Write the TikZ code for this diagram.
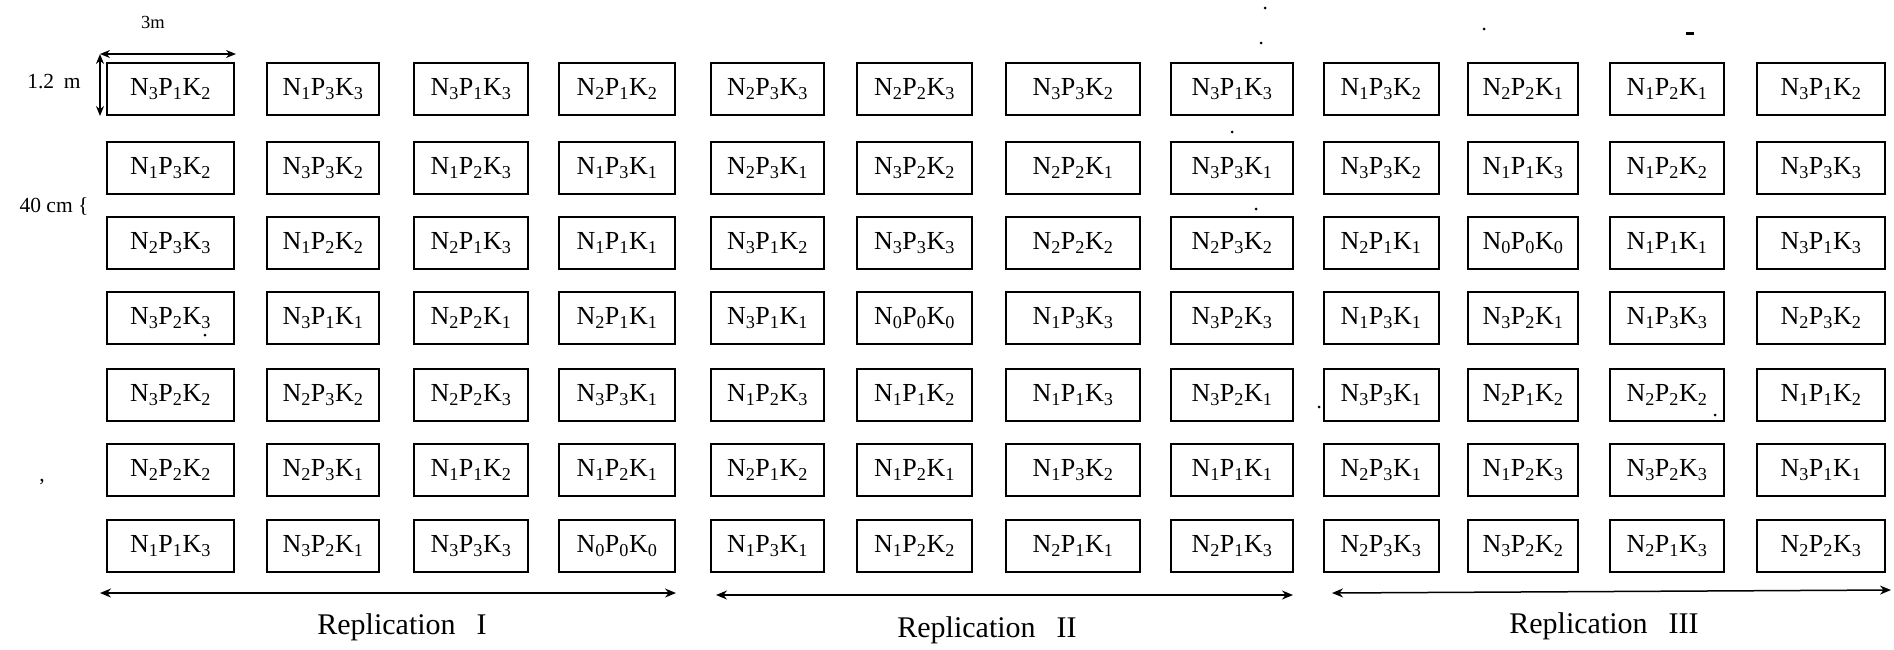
\documentclass[tikz,border=0pt]{standalone}
\usepackage{fontspec}
\setmainfont{Liberation Serif}
\usetikzlibrary{arrows.meta}
\newcommand\npk[3]{N\textsubscript{#1}P\textsubscript{#2}K\textsubscript{#3}}
\newcommand\npkc[3]{\npk{#1}{#2}{#3}}
\def\colx{{170.5,323,471,617,767.5,914.5,1073,1232,1381,1523,1667,1821}}
\def\colw{{127,112,114,116,113,115,134,122,115,110,114,128}}
\begin{document}
\begin{tikzpicture}[x=1pt,y=-1pt,
  plot/.style={draw,line width=2pt,inner sep=0pt,minimum height=52pt,font=\fontsize{26}{28}\selectfont},
  dimarrow/.style={line width=1.4pt,{Stealth[length=10pt,width=8pt]}-{Stealth[length=10pt,width=8pt]}},
  reparrow/.style={line width=1.5pt,{Stealth[length=11pt,width=9pt]}-{Stealth[length=11pt,width=9pt]}},
  replab/.style={font=\fontsize{30}{32}\selectfont},
  sidelab/.style={font=\fontsize{21.5}{23}\selectfont,inner sep=0pt},
  speck/.style={fill=black,draw=none}]
\useasboundingbox (0,0) rectangle (1894,649);

\foreach \r/\y/\codes in {
  1/89/{312,133,313,212,233,223,332,313,132,221,121,312},
  2/168/{132,332,123,131,231,322,221,331,332,113,122,333},
  3/243/{233,122,213,111,312,333,222,232,211,000,111,313},
  4/318/{323,311,221,211,311,000,133,323,131,321,133,232},
  5/395/{322,232,223,331,123,112,113,321,331,212,222,112},
  6/470/{222,231,112,121,212,121,132,111,231,123,323,311},
  7/546/{113,321,333,000,131,122,211,213,233,322,213,223}}{
  \foreach \code [count=\c] in \codes {
    \pgfmathsetmacro\cx{\colx[\c-1]}
    \pgfmathsetmacro\cw{\colw[\c-1]}
    \node[plot,minimum width=\cw pt] (b\r-\c) at (\cx,\y) {\expandafter\npkc\code};
  }
}

% plot dimension arrows
\coordinate (dimcorner) at (100,54);
\coordinate (dimright) at (236,54);
\coordinate (dimbottom) at (100,116);
\draw[dimarrow] (dimcorner) -- (dimright);
\draw[dimarrow] (dimcorner) -- (dimbottom);
\node[sidelab,font=\fontsize{18.5}{20}\selectfont] (lab3m) at (153,22) {3m};
\node[sidelab] (lab12) at (54,82) {1.2\hspace{0.45em}m};
\node[sidelab] (lab40) at (54,206) {40 cm \{};
\node[sidelab] (comma) at (42,482) {,};

% replication arrows
\coordinate (r1a) at (100,593);
\coordinate (r1b) at (676,593);
\coordinate (r2a) at (716,595);
\coordinate (r2b) at (1293,595);
\coordinate (r3a) at (1332,593);
\coordinate (r3b) at (1891,590);
\draw[reparrow] (r1a) -- (r1b);
\draw[reparrow] (r2a) -- (r2b);
\draw[reparrow] (r3a) -- (r3b);
\node[replab] (rep1) at (402,627) {Replication\hspace{0.7em}I};
\node[replab] (rep2) at (987,630) {Replication\hspace{0.7em}II};
\node[replab] (rep3) at (1604,626) {Replication\hspace{0.7em}III};

% scan specks
\foreach \px/\py in {1265/8,1261/43,1232/132,1256/209,1484/29,1319/407,1715/415,205/335}{
  \fill[speck] (\px,\py) circle (1.5pt);
}
\fill[speck] (1686,32) rectangle (1694,35);
\end{tikzpicture}
\end{document}
